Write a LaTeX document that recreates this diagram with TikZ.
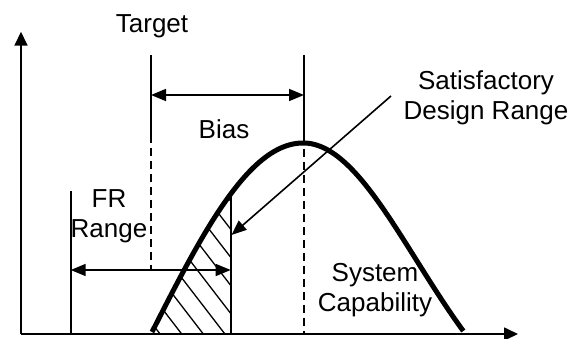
\documentclass[tikz,border=0pt]{standalone}
\usepackage{fontspec}
\setmainfont{Liberation Sans}
\usetikzlibrary{arrows.meta}
\begin{document}
\begin{tikzpicture}[x=1pt,y=-1pt,
  thinline/.style={line width=1.6pt},
  dashline/.style={line width=1.6pt, dash pattern=on 8pt off 5pt},
  hatchline/.style={line width=1.3pt},
  curveline/.style={line width=5pt, line join=round},
  axistip/.style={-{Triangle[length=14pt,width=13pt]}},
  dimtip/.style={{Triangle[length=15pt,width=12pt]}-{Triangle[length=15pt,width=12pt]}},
  pointtip/.style={-{Triangle[length=15pt,width=12pt]}},
  lbl/.style={font=\fontsize{26}{30.5}\selectfont, inner sep=0pt, align=center}
]
\useasboundingbox (0,0) rectangle (571,339);

% coordinates
\coordinate (O) at (21,334);
\coordinate (Ytip) at (21,31.7);
\coordinate (Xtip) at (518,334);
\coordinate (T1) at (151,55);
\coordinate (T2) at (151,135);
\coordinate (T3) at (151,270);
\coordinate (P1) at (304,55);
\coordinate (P2) at (304,136);
\coordinate (P3) at (304,334);
\coordinate (B1) at (151,95);
\coordinate (B2) at (304,95);
\coordinate (F1) at (70.7,191);
\coordinate (F2) at (70.7,334);
\coordinate (FA1) at (70.7,270);
\coordinate (FA2) at (230.7,270);
\coordinate (H1) at (230.7,194);
\coordinate (H2) at (230.7,334);
\coordinate (S1) at (391,96);
\coordinate (S2) at (231.5,235);

% hatching
\begin{scope}
  \clip plot[domain=152:230.7,samples=40] (\x,{332-189*cos(90*(303-\x)/151)}) -- (H2) -- (152,334) -- cycle;
  \foreach \k in {0,...,9}
    \draw[hatchline] ({160.1+21.6*\k},334) -- ++(-130,-169);
\end{scope}

% axes
\draw[thinline,axistip] (O) -- (Ytip);
\draw[thinline,axistip] (O) -- (Xtip);

% target and peak lines
\draw[thinline] (T1) -- (T2);
\draw[dashline] (T2) -- (T3);
\draw[thinline] (P1) -- (P2);
\draw[dashline] (P2) -- (P3);

% FR range
\draw[thinline] (F1) -- (F2);
\draw[thinline] (H1) -- (H2);

% dimension arrows
\draw[thinline,dimtip] (B1) -- (B2);
\draw[thinline,dimtip] (FA1) -- (FA2);

% curve
\draw[curveline] plot[domain=152:303,samples=60] (\x,{332-189*cos(90*(303-\x)/151)})
  -- plot[domain=303:463.3,samples=60] (\x,{143+188*(1-exp(-((\x-303)/160.3)*((\x-303)/160.3)))/0.63212});

% pointer
\draw[thinline,pointtip] (S1) -- (S2);

% labels
\node[lbl,anchor=base] (target) at (152,33) {Target};
\node[lbl,anchor=base] (bias) at (224,139) {Bias};
\node[lbl,anchor=north] (sdr) at (486,70.1) {Satisfactory\\Design Range};
\node[lbl,anchor=north] (fr) at (109,189.4) {FR\\Range};
\node[lbl,anchor=north] (sys) at (375,262.7) {System\\Capability};
\end{tikzpicture}
\end{document}
